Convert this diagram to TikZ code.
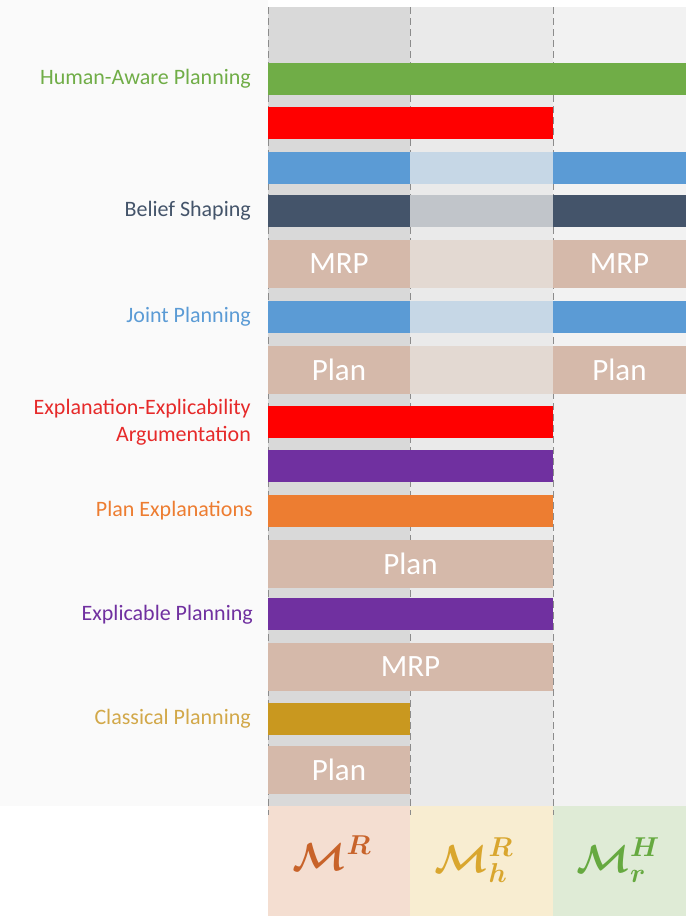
\RequirePackage{fix-cm}
\documentclass[tikz,border=0pt]{standalone}
\usepackage{amsmath}
\usepackage{bm}
\usepackage{fontspec}
\setmainfont{Carlito}
\begin{document}
\definecolor{colA}{HTML}{D9D9D9}
\definecolor{colB}{HTML}{EAEAEA}
\definecolor{colC}{HTML}{F2F2F2}
\definecolor{panel}{HTML}{FAFAFA}
\definecolor{hapG}{HTML}{70AD47}
\definecolor{eeaR}{HTML}{FF0000}
\definecolor{jpB}{HTML}{5B9BD5}
\definecolor{jpBl}{HTML}{C6D7E6}
\definecolor{bsD}{HTML}{44546A}
\definecolor{bsDl}{HTML}{C1C5CA}
\definecolor{tan}{HTML}{D5B9AA}
\definecolor{tanl}{HTML}{E3D9D2}
\definecolor{epP}{HTML}{7030A0}
\definecolor{peO}{HTML}{ED7D31}
\definecolor{cpG}{HTML}{C9981F}
\definecolor{cpL}{HTML}{D2A849}
\definecolor{eeaL}{HTML}{E62A2A}
\definecolor{cellA}{HTML}{F4DED1}
\definecolor{cellB}{HTML}{F8EDD1}
\definecolor{cellC}{HTML}{DFEBD6}
\definecolor{mA}{HTML}{C8632A}
\definecolor{mB}{HTML}{D9A62E}
\definecolor{mC}{HTML}{66A940}
\definecolor{sep}{HTML}{8C8C8C}
\begin{tikzpicture}[x=1pt,y=-1pt,
  bar/.style={rectangle,draw=none,inner sep=0pt,outer sep=0pt,anchor=north west,
    text=white,font=\fontsize{31}{37}\selectfont},
  thin/.style={bar,minimum height=32pt},
  thick/.style={bar,minimum height=48pt},
  w1/.style={minimum width=142pt},
  w2/.style={minimum width=285pt},
  w3/.style={minimum width=133pt},
  wall/.style={minimum width=418pt},
  lbl/.style={anchor=east,align=right,inner sep=0pt,font=\fontsize{22}{26.5}\selectfont},
  sepline/.style={draw=sep,line width=1pt,dash pattern=on 7pt off 4pt},
  cell/.style={rectangle,draw=none,inner sep=0pt,anchor=north west,minimum height=110pt},
  mlbl/.style={font=\fontsize{39}{47}\selectfont}]
\useasboundingbox (0,0) rectangle (686,916);
% background panels
\fill[white] (0,0) rectangle (686,916);
\fill[panel] (0,0) rectangle (268,806);
\fill[colA] (268,7) rectangle (410,806);
\fill[colB] (410,7) rectangle (553,806);
\fill[colC] (553,7) rectangle (686,806);
% model cells
\node[cell,fill=cellA,minimum width=142pt] (cMR) at (268,806) {};
\node[cell,fill=cellB,minimum width=143pt] (cMRh) at (410,806) {};
\node[cell,fill=cellC,minimum width=133pt] (cMHr) at (553,806) {};
\node[mlbl,text=mA] (tMR) at (332,853) {$\bm{\mathcal{M}}^{\bm{R}}$};
\node[mlbl,text=mB] (tMRh) at (474,860) {$\bm{\mathcal{M}}^{\bm{R}}_{\bm{h}}$};
\node[mlbl,text=mC] (tMHr) at (618,860) {$\bm{\mathcal{M}}^{\bm{H}}_{\bm{r}}$};
% column separators
\coordinate (s1t) at (268,7);  \coordinate (s1b) at (268,815);
\coordinate (s2t) at (410,7);  \coordinate (s2b) at (410,815);
\coordinate (s3t) at (553,7);  \coordinate (s3b) at (553,815);
\draw[sepline] (s1t) -- (s1b);
\draw[sepline] (s2t) -- (s2b);
\draw[sepline] (s3t) -- (s3b);
% Human-Aware Planning
\node[thin,wall,fill=hapG] (hap) at (268,63) {};
% Explanation-Explicability Argumentation (top)
\node[thin,w2,fill=eeaR] (eea1) at (268,107) {};
% Joint planning / belief shaping rows
\node[thin,w1,fill=jpB] (jp1a) at (268,152) {};
\node[thin,w1,fill=jpBl,minimum width=143pt] (jp1b) at (410,152) {};
\node[thin,w3,fill=jpB] (jp1c) at (553,152) {};
\node[thin,w1,fill=bsD] (bsa) at (268,195) {};
\node[thin,w1,fill=bsDl,minimum width=143pt] (bsb) at (410,195) {};
\node[thin,w3,fill=bsD] (bsc) at (553,195) {};
\node[thick,w1,fill=tan] (mrp1a) at (268,240) {MRP};
\node[thick,w1,fill=tanl,minimum width=143pt] (mrp1b) at (410,240) {};
\node[thick,w3,fill=tan] (mrp1c) at (553,240) {MRP};
\node[thin,w1,fill=jpB] (jp2a) at (268,301) {};
\node[thin,w1,fill=jpBl,minimum width=143pt] (jp2b) at (410,301) {};
\node[thin,w3,fill=jpB] (jp2c) at (553,301) {};
\node[thick,w1,fill=tan] (pl1a) at (268,346) {Plan};
\node[thick,w1,fill=tanl,minimum width=143pt] (pl1b) at (410,346) {};
\node[thick,w3,fill=tan] (pl1c) at (553,346) {Plan};
% Explanation / explicability rows
\node[thin,w2,fill=eeaR] (eea2) at (268,406) {};
\node[thin,w2,fill=epP] (ep1) at (268,450) {};
\node[thin,w2,fill=peO] (pe) at (268,495) {};
\node[thick,w2,fill=tan] (pl2) at (268,540) {Plan};
\node[thin,w2,fill=epP] (ep2) at (268,598) {};
\node[thick,w2,fill=tan] (mrp2) at (268,643) {MRP};
% Classical planning
\node[thin,w1,fill=cpG] (cp) at (268,703) {};
\node[thick,w1,fill=tan] (pl3) at (268,746) {Plan};
% row labels
\node[lbl,text=hapG] (lhap) at (251,79) {Human-Aware Planning};
\node[lbl,text=bsD] (lbs) at (251,211) {Belief Shaping};
\node[lbl,text=jpB] (ljp) at (251,317) {Joint Planning};
\node[lbl,text=eeaL] (leea) at (251,422) {Explanation-Explicability\\Argumentation};
\node[lbl,text=peO] (lpe) at (253,511) {Plan Explanations};
\node[lbl,text=epP] (lep) at (253,615) {Explicable Planning};
\node[lbl,text=cpL] (lcp) at (251,719) {Classical Planning};
\end{tikzpicture}
\end{document}
